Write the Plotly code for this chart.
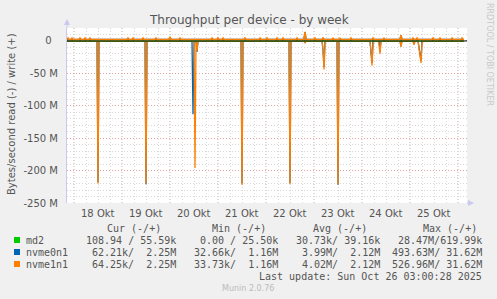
import plotly.graph_objects as go
from datetime import datetime, timedelta

M = 1e6
FMT = "%Y-%m-%d %H:%M"
DATA_START = "2025-10-17 20:30"
DATA_END = "2025-10-26 03:00"
X_RANGE = ["2025-10-17 20:30", "2025-10-26 04:30"]

# ---- data (values in MB/s; read is drawn negative) ----
md2_read_base = 0.0
md2_read_times = ["2025-10-23 12:30", "2025-10-24 09:30"]
md2_read_vals = [-1.5, -1.5]
md2_write_base = 0.05
md2_write_times = ["2025-10-22 19:30"]
md2_write_vals = [0.6]

nvme0n1_read_base = -0.06
nvme0n1_read_times = ["2025-10-18 12:00", "2025-10-19 12:00", "2025-10-20 11:30", "2025-10-20 13:30",
                      "2025-10-21 12:00", "2025-10-22 12:00", "2025-10-22 19:30", "2025-10-23 04:30",
                      "2025-10-23 05:00", "2025-10-23 12:00", "2025-10-24 04:30", "2025-10-24 05:00",
                      "2025-10-24 09:00", "2025-10-24 19:30", "2025-10-25 02:00", "2025-10-25 04:30",
                      "2025-10-25 05:00", "2025-10-25 05:30"]
nvme0n1_read_vals = [-218, -221, -113, -17, -220, -219, -3, -14, -40, -222, -18, -34, -16, -8, -5,
                     -12, -24, -30]
nvme0n1_write_base = 2.1
nvme0n1_write_times = ["2025-10-20 00:00", "2025-10-22 19:30", "2025-10-24 19:30", "2025-10-23 04:30"]
nvme0n1_write_vals = [5.5, 13.5, 8.5, 4.0]

nvme1n1_read_base = -0.06
nvme1n1_read_times = ["2025-10-18 12:00", "2025-10-19 12:00", "2025-10-20 12:30", "2025-10-20 13:30",
                      "2025-10-21 12:00", "2025-10-22 12:00", "2025-10-22 19:30", "2025-10-23 04:30",
                      "2025-10-23 05:00", "2025-10-23 05:30", "2025-10-23 12:00", "2025-10-24 04:30",
                      "2025-10-24 05:00", "2025-10-24 05:30", "2025-10-24 08:30", "2025-10-24 09:00",
                      "2025-10-24 19:30", "2025-10-25 02:00", "2025-10-25 04:30", "2025-10-25 05:00",
                      "2025-10-25 05:30", "2025-10-25 06:00"]
nvme1n1_read_vals = [-220, -220, -196, -15, -222, -221, -3, -12, -44, -4, -221, -15, -38, -8, -5, -20,
                     -9, -6, -10, -22, -34, -5]
nvme1n1_write_base = 2.1
nvme1n1_write_times = ["2025-10-17 21:00", "2025-10-17 23:00", "2025-10-18 03:00", "2025-10-18 05:30",
                       "2025-10-18 08:00", "2025-10-19 03:00", "2025-10-19 05:30", "2025-10-19 10:30",
                       "2025-10-19 17:00", "2025-10-20 00:00", "2025-10-20 05:00", "2025-10-20 21:00",
                       "2025-10-21 00:00", "2025-10-21 02:30", "2025-10-21 13:30", "2025-10-21 21:00",
                       "2025-10-22 00:30", "2025-10-22 05:30", "2025-10-22 08:30", "2025-10-22 15:30",
                       "2025-10-22 19:30", "2025-10-23 00:30", "2025-10-23 04:30", "2025-10-23 09:30",
                       "2025-10-23 13:00", "2025-10-23 18:30", "2025-10-24 05:30", "2025-10-24 11:00",
                       "2025-10-24 19:30", "2025-10-25 01:30", "2025-10-25 03:30", "2025-10-25 11:30",
                       "2025-10-25 15:00", "2025-10-25 21:00", "2025-10-26 02:00"]
nvme1n1_write_vals = [4.6, 4.6, 4.6, 4.6, 4.6, 4.6, 4.6, 4.6, 4.6, 6.5, 4.6, 4.6, 4.6, 4.6, 5.0,
                      4.6, 4.6, 4.6, 4.6, 4.6, 14.0, 4.6, 5.0, 4.8, 4.8, 4.6, 4.6, 4.8, 9.0, 4.6,
                      4.6, 4.6, 4.6, 4.6, 4.6]

devices = ["md2", "nvme0n1", "nvme1n1"]
colors = ["#00CC00", "#0066B3", "#FF8000"]
cur_col = ["108.94 / 55.59k", "62.21k/  2.25M", "64.25k/  2.25M"]
min_col = ["0.00 / 25.50k", "32.66k/  1.16M", "33.73k/  1.16M"]
avg_col = ["30.73k/ 39.16k", "3.99M/  2.12M", "4.02M/  2.12M"]
max_col = ["28.47M/619.99k", "493.63M/ 31.62M", "526.96M/ 31.62M"]
headers = ["Cur (-/+)", "Min (-/+)", "Avg (-/+)", "Max (-/+)"]
days = ["2025-10-18", "2025-10-19", "2025-10-20", "2025-10-21", "2025-10-22", "2025-10-23",
        "2025-10-24", "2025-10-25", "2025-10-26"]
day_labels = ["18 Okt", "19 Okt", "20 Okt", "21 Okt", "22 Okt", "23 Okt", "24 Okt", "25 Okt"]
y_tickvals = [0, -50, -100, -150, -200, -250]
y_ticktext = ["0\u00a0\u00a0", "-50 M", "-100 M", "-150 M", "-200 M", "-250 M"]


def build(base, times, vals):
    pts = {datetime.strptime(DATA_START, FMT): base, datetime.strptime(DATA_END, FMT): base}
    ev = [(datetime.strptime(t, FMT), v) for t, v in zip(times, vals)]
    for t, v in ev:
        pts[t] = v
    step = timedelta(minutes=30)
    for t, _ in ev:
        for n in (t - step, t + step):
            pts.setdefault(n, base)
    ks = sorted(pts)
    return ks, [pts[k] * M for k in ks]


below_zero_rule = [
    (md2_read_base, md2_read_times, md2_read_vals, colors[0], 1.0),
    (nvme0n1_read_base, nvme0n1_read_times, nvme0n1_read_vals, colors[1], 1.3),
    (nvme1n1_read_base, nvme1n1_read_times, nvme1n1_read_vals, colors[2], 1.3),
    (md2_write_base, md2_write_times, md2_write_vals, colors[0], 1.0),
]
above_zero_rule = [
    (nvme0n1_write_base, nvme0n1_write_times, nvme0n1_write_vals, colors[1], 1.5),
    (nvme1n1_write_base, nvme1n1_write_times, nvme1n1_write_vals, colors[2], 1.5),
]

fig = go.Figure()
for base, t, v, c, w in below_zero_rule:
    xs, ys = build(base, t, v)
    fig.add_trace(go.Scatter(x=xs, y=ys, mode="lines", line=dict(color=c, width=w),
                             showlegend=False, hoverinfo="skip"))
# zero rule (HRULE:0)
fig.add_trace(go.Scatter(x=X_RANGE, y=[0, 0], mode="lines", line=dict(color="#000000", width=1),
                         showlegend=False, hoverinfo="skip"))
for base, t, v, c, w in above_zero_rule:
    xs, ys = build(base, t, v)
    fig.add_trace(go.Scatter(x=xs, y=ys, mode="lines", line=dict(color=c, width=w),
                             showlegend=False, hoverinfo="skip"))

L, R, T, B = 67, 467, 28, 203


def px(x):
    return (x - L) / (R - L)


def py(y):
    return (B - y) / (B - T)


TXT = "#555555"
MINOR = "#D8D8D8"
MAJOR = "#E3A3A3"
AXIS = "#C8C8F0"

shapes = []
for d in days:
    shapes.append(dict(type="line", xref="x", yref="paper", x0=d, x1=d, y0=0, y1=1,
                       line=dict(color=MAJOR, width=1, dash="1px,2px"), layer="between"))
# axis arrows
shapes.append(dict(type="line", xref="paper", yref="paper", x0=0, x1=0, y0=1, y1=py(21),
                   line=dict(color=AXIS, width=1)))
shapes.append(dict(type="path", xref="paper", yref="paper",
                   path=f"M {px(64)} {py(25)} L {px(70)} {py(25)} L {px(67)} {py(19)} Z",
                   fillcolor=AXIS, line=dict(width=0)))
shapes.append(dict(type="line", xref="paper", yref="paper", x0=1, x1=px(470), y0=0, y1=0,
                   line=dict(color=AXIS, width=1)))
shapes.append(dict(type="path", xref="paper", yref="paper",
                   path=f"M {px(468)} {py(200)} L {px(468)} {py(206)} L {px(474)} {py(203)} Z",
                   fillcolor=AXIS, line=dict(width=0)))
# legend colour squares
rows_y = [240, 252, 264]
for c, yy in zip(colors, rows_y):
    shapes.append(dict(type="rect", xref="paper", yref="paper", x0=px(14), x1=px(20),
                       y0=py(yy + 3), y1=py(yy - 3), fillcolor=c, line=dict(width=0)))

ann = []


def text(x, y, s, size=10, color=TXT, anchor="left", family="DejaVu Sans Mono", angle=0):
    ann.append(dict(x=px(x), y=py(y), xref="paper", yref="paper", text=s.replace(" ", "\u00a0"),
                    showarrow=False, xanchor=anchor, yanchor="middle", textangle=angle,
                    font=dict(family=family, size=size, color=color), borderpad=0, borderwidth=0))


text(249, 20, "Throughput per device - by week", size=12, anchor="center", family="DejaVu Sans")
ann.append(dict(x=px(11), y=py(114), xref="paper", yref="paper",
                text="Bytes/second read (-) / write (+)", showarrow=False, textangle=-90,
                xanchor="center", yanchor="middle", borderpad=0, borderwidth=0,
                font=dict(family="DejaVu Sans", size=10, color=TXT)))
ann.append(dict(x=px(490), y=py(54), xref="paper", yref="paper",
                text="RRDTOOL / TOBI OETIKER", showarrow=False, textangle=90,
                xanchor="center", yanchor="middle", borderpad=0, borderwidth=0,
                font=dict(family="DejaVu Sans", size=8, color="#C8C8C8")))
for d, lab in zip(days, day_labels):
    mid = datetime.strptime(d, "%Y-%m-%d") + timedelta(hours=12)
    ann.append(dict(x=mid, y=py(213), xref="x", yref="paper", text=lab, showarrow=False,
                    xanchor="center", yanchor="middle", borderpad=0, borderwidth=0,
                    font=dict(family="DejaVu Sans", size=10, color=TXT)))
for h, cx in zip(headers, [133.5, 238.5, 340, 449.5]):
    text(cx, 228, h, anchor="center")
for i, dev in enumerate(devices):
    yy = rows_y[i]
    text(26, yy, dev)
    text(176, yy, cur_col[i], anchor="right")
    text(278, yy, min_col[i], anchor="right")
    text(380, yy, avg_col[i], anchor="right")
    text(482, yy, max_col[i], anchor="right")
text(482, 276, "Last update: Sun Oct 26 03:00:28 2025", anchor="right")
text(248, 288, "Munin 2.0.76", size=8, color="#BBBBBB", anchor="center", family="DejaVu Sans")

fig.update_layout(
    width=497, height=299, autosize=False,
    margin=dict(l=L, r=497 - R, t=T, b=299 - B, pad=0),
    paper_bgcolor="#F0F0F0", plot_bgcolor="#FFFFFF",
    shapes=shapes, annotations=ann, showlegend=False,
    font=dict(family="DejaVu Sans", size=10, color=TXT),
)
fig.update_xaxes(
    type="date", range=X_RANGE, showticklabels=False, ticks="",
    tickmode="linear", tick0="2025-10-18 12:00", dtick=6 * 3600 * 1000,
    showgrid=True, gridcolor=MINOR, griddash="1px,2px", gridwidth=1,
    showline=False, zeroline=False, fixedrange=True,
)
fig.update_yaxes(
    range=[-250 * M, 20 * M], tickmode="array",
    tickvals=[v * M for v in y_tickvals], ticktext=y_ticktext, ticks="",
    ticklabelstandoff=6, tickfont=dict(family="DejaVu Sans", size=10, color=TXT),
    showgrid=True, gridcolor=MAJOR, griddash="1px,2px",
    minor=dict(tickmode="linear", tick0=0, dtick=10 * M, showgrid=True, gridcolor=MINOR,
               griddash="1px,2px"),
    showline=True, linecolor=AXIS, linewidth=1, zeroline=False, fixedrange=True,
)

fig.write_html("out.html")
